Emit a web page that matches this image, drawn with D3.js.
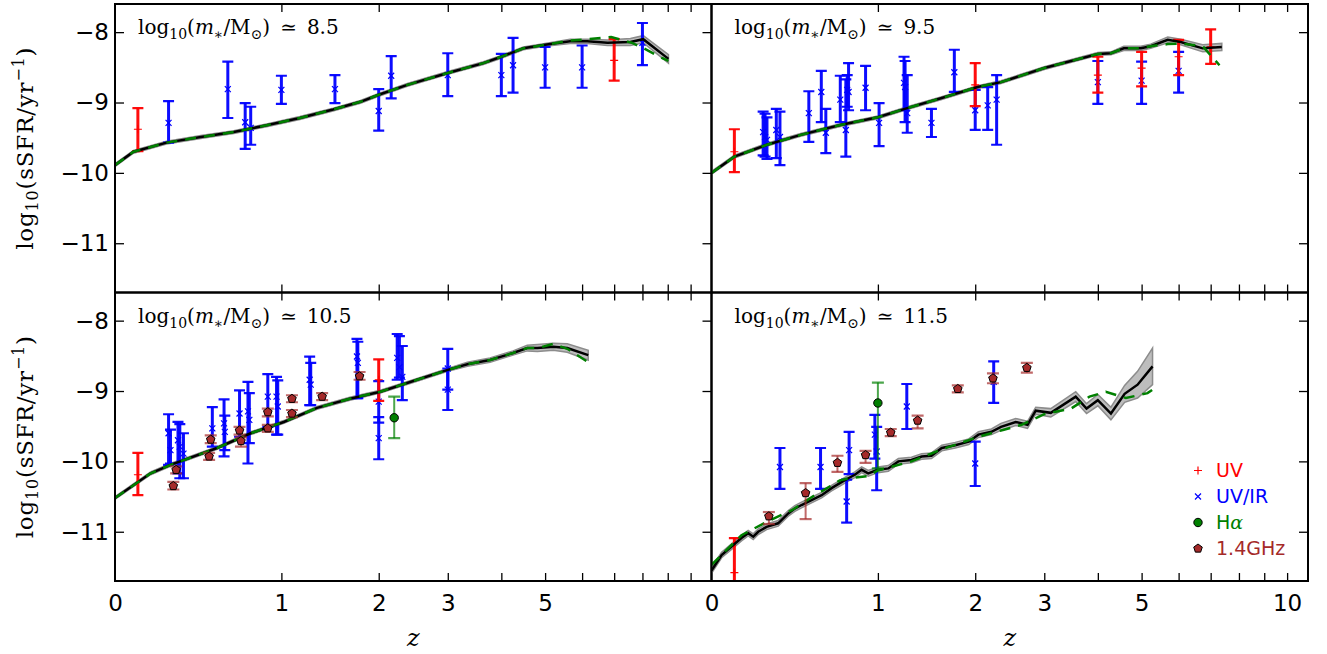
<!DOCTYPE html>
<html>
<head>
<meta charset="utf-8">
<script src="https://d3js.org/d3.v7.min.js"></script>
<style>
body { margin: 0; background: #fff; }
svg { display: block; }
.tick text { font-family: "DejaVu Sans", sans-serif; font-size: 23px; fill: #000; }
.tick line { stroke: #000; stroke-width: 1.3; }
.lab { font-family: "DejaVu Serif", serif; fill: #000; }
</style>
</head>
<body>
<div id="chart"></div>
<script>
// ---- data ----
var masses = ['8.5', '9.5', '10.5', '11.5'];
var zTicks = [1, 2, 3, 4, 5, 6, 7, 8, 9, 10];
var zLabels = [0, 1, 2, 3, 5, 10];
var yTicks = [-8, -9, -10, -11];

// model: [z, log sSFR, half width of band]
var model85 = [[0,-9.89,0.02],[0.08,-9.70,0.02],[0.24,-9.57,0.02],[0.43,-9.49,0.02],[0.64,-9.42,0.02],[0.89,-9.32,0.02],
  [1.16,-9.22,0.02],[1.48,-9.10,0.02],[1.78,-8.99,0.02],[2.0,-8.89,0.02],[2.38,-8.75,0.02],[3.0,-8.58,0.02],[3.64,-8.44,0.02],
  [4.0,-8.35,0.02],[4.48,-8.23,0.02],[5.0,-8.18,0.02],[5.66,-8.13,0.03],[6.15,-8.13,0.03],[6.78,-8.15,0.04],[7.56,-8.14,0.05],
  [8.03,-8.10,0.05],[9.03,-8.38,0.06]];
var fit85 = [[0,-9.89],[0.08,-9.70],[0.24,-9.57],[0.43,-9.49],[0.64,-9.42],[0.89,-9.32],[1.16,-9.22],[1.48,-9.10],[1.78,-8.99],
  [2.0,-8.89],[2.38,-8.75],[3.0,-8.58],[3.64,-8.44],[4.0,-8.35],[4.48,-8.23],[5.0,-8.18],[5.66,-8.12],[6.15,-8.10],[6.9,-8.07],
  [7.6,-8.15],[8.0,-8.22],[8.5,-8.32],[9.03,-8.41]];

var model95 = [[0,-10.0,0.02],[0.1,-9.77,0.02],[0.26,-9.60,0.02],[0.45,-9.46,0.02],[0.71,-9.32,0.02],[1.0,-9.21,0.02],
  [1.26,-9.08,0.02],[1.6,-8.94,0.02],[2.03,-8.78,0.02],[2.34,-8.71,0.02],[3.0,-8.51,0.02],[4.0,-8.31,0.02],[4.28,-8.30,0.02],
  [4.57,-8.23,0.03],[4.98,-8.23,0.03],[5.23,-8.20,0.03],[5.69,-8.11,0.04],[6.06,-8.14,0.04],[6.74,-8.23,0.05],[7.38,-8.21,0.05]];
var fit95 = [[0,-10.0],[0.1,-9.77],[0.26,-9.60],[0.45,-9.46],[0.71,-9.32],[1.0,-9.21],[1.26,-9.08],[1.6,-8.94],[2.03,-8.78],
  [2.34,-8.71],[3.0,-8.51],[4.0,-8.31],[4.28,-8.30],[4.57,-8.23],[4.98,-8.23],[5.23,-8.20],[5.69,-8.17],[6.06,-8.16],
  [6.74,-8.20],[7.0,-8.33],[7.3,-8.47]];

var model105 = [[0,-10.52,0.02],[0.16,-10.17,0.02],[0.26,-10.05,0.02],[0.53,-9.81,0.02],[0.76,-9.60,0.02],[1.02,-9.44,0.02],
  [1.32,-9.24,0.02],[1.66,-9.11,0.02],[2.02,-9.01,0.02],[2.52,-8.84,0.02],[3.0,-8.70,0.02],[3.34,-8.62,0.03],[3.77,-8.56,0.03],
  [4.25,-8.46,0.03],[4.57,-8.39,0.04],[4.81,-8.39,0.05],[5.21,-8.37,0.05],[5.58,-8.39,0.06],[6.18,-8.49,0.07]];
var fit105 = [[0,-10.52],[0.16,-10.17],[0.26,-10.05],[0.53,-9.81],[0.76,-9.60],[1.02,-9.44],[1.32,-9.24],[1.66,-9.11],
  [2.02,-9.01],[2.52,-8.84],[3.0,-8.70],[3.34,-8.62],[3.77,-8.56],[4.25,-8.46],[4.57,-8.39],[4.81,-8.39],[5.21,-8.33],
  [5.58,-8.40],[6.18,-8.59]];

var model115 = [[0,-11.55,0.04],[0.043,-11.33,0.04],[0.087,-11.21,0.04],[0.133,-11.09,0.04],[0.165,-11.02,0.04],[0.19,-11.07,0.04],
  [0.215,-11.0,0.04],[0.258,-10.93,0.04],[0.32,-10.88,0.04],[0.377,-10.74,0.04],[0.415,-10.67,0.04],[0.455,-10.62,0.04],
  [0.517,-10.55,0.04],[0.582,-10.48,0.04],[0.649,-10.38,0.04],[0.707,-10.31,0.04],[0.768,-10.24,0.04],[0.817,-10.19,0.04],
  [0.869,-10.12,0.04],[0.921,-10.17,0.04],[1.0,-10.12,0.04],[1.089,-10.10,0.04],[1.178,-10.0,0.04],[1.30,-9.98,0.04],
  [1.40,-9.93,0.04],[1.50,-9.92,0.04],[1.61,-9.81,0.04],[1.76,-9.77,0.04],[1.92,-9.72,0.04],[2.04,-9.62,0.04],[2.21,-9.58,0.04],
  [2.34,-9.51,0.05],[2.55,-9.44,0.05],[2.73,-9.48,0.05],[2.86,-9.28,0.05],[3.11,-9.31,0.06],[3.56,-9.08,0.07],[3.77,-9.25,0.07],
  [4.0,-9.13,0.08],[4.28,-9.32,0.09],[4.59,-9.04,0.12],[4.90,-8.91,0.19],[5.28,-8.65,0.26]];
var fit115 = [[0,-11.47],[0.133,-11.05],[0.258,-10.86],[0.4,-10.69],[0.517,-10.51],[0.707,-10.27],[0.77,-10.24],[0.92,-10.21],
  [1.0,-10.13],[1.3,-10.0],[1.61,-9.83],[2.04,-9.65],[2.38,-9.55],[2.64,-9.48],[3.0,-9.33],[3.47,-9.25],[3.83,-9.08],
  [4.17,-9.01],[4.62,-9.10],[5.15,-9.03],[5.28,-8.98]];

// observations: [z, log sSFR, lower end, upper end]
var uv85 = [[0.1,-9.38,-9.69,-9.08],[7.0,-8.40,-8.69,-8.10]];
var uvir85 = [[0.25,-9.29,-9.57,-8.98],[0.60,-8.81,-9.22,-8.42],[0.72,-9.28,-9.66,-9.01],[0.76,-9.36,-9.60,-9.06],
  [1.0,-8.82,-9.02,-8.62],[1.5,-8.81,-9.01,-8.61],[2.0,-9.12,-9.40,-8.81],[2.16,-8.62,-8.94,-8.34],[3.0,-8.61,-8.91,-8.30],
  [4.0,-8.61,-8.91,-8.31],[4.25,-8.47,-8.86,-8.08],[5.0,-8.50,-8.79,-8.21],[6.0,-8.50,-8.79,-8.19],[8.0,-8.15,-8.47,-7.87]];

var uv95 = [[0.1,-9.70,-9.99,-9.38],[2.0,-8.75,-9.05,-8.44],[4.0,-8.61,-8.86,-8.35],[5.0,-8.51,-8.77,-8.28],
  [6.0,-8.35,-8.61,-8.11],[7.0,-8.21,-8.45,-7.96]];
var uvir95 = [[0.24,-9.42,-9.75,-9.13],[0.25,-9.49,-9.77,-9.16],[0.26,-9.53,-9.80,-9.21],[0.31,-9.39,-9.79,-9.09],
  [0.33,-9.49,-9.89,-9.13],[0.50,-9.15,-9.56,-8.84],[0.58,-8.85,-9.28,-8.55],[0.61,-9.43,-9.72,-9.09],[0.71,-8.96,-9.28,-8.62],
  [0.75,-9.39,-9.77,-8.67],[0.77,-8.85,-9.11,-8.44],[0.76,-8.82,-9.06,-8.61],[0.90,-8.79,-9.11,-8.48],[1.01,-9.29,-9.62,-9.01],
  [1.23,-8.72,-9.11,-8.35],[1.24,-8.78,-9.28,-8.41],[1.26,-9.15,-9.43,-8.61],[1.50,-9.29,-9.49,-9.09],[1.75,-8.57,-8.85,-8.25],
  [2.0,-9.11,-9.39,-8.82],[2.16,-9.04,-9.39,-8.78],[2.28,-8.96,-9.60,-8.61],[4.0,-8.71,-9.02,-8.41],[5.0,-8.69,-9.02,-8.42],
  [6.0,-8.55,-8.86,-8.28]];

var uv105 = [[0.1,-10.19,-10.48,-9.88],[2.0,-8.84,-9.14,-8.55]];
var uvir105 = [[0.25,-9.60,-10.05,-9.33],[0.26,-9.84,-10.03,-9.55],[0.30,-9.70,-10.17,-9.44],[0.31,-9.79,-10.24,-9.47],
  [0.33,-9.89,-10.24,-9.60],[0.50,-9.53,-9.79,-9.23],[0.575,-9.46,-9.93,-9.12],[0.58,-9.58,-9.84,-9.35],[0.68,-9.32,-9.65,-8.99],
  [0.74,-9.29,-10.03,-8.87],[0.75,-9.41,-9.74,-9.03],[0.89,-9.08,-9.51,-8.76],[0.96,-9.08,-9.62,-8.80],[0.97,-9.22,-9.62,-8.85],
  [1.25,-8.84,-9.20,-8.51],[1.26,-8.91,-9.20,-8.60],[1.74,-8.51,-9.10,-8.26],[1.75,-8.60,-9.10,-8.30],[2.0,-9.15,-9.45,-8.86],
  [2.0,-9.67,-9.97,-9.37],[2.24,-8.53,-8.84,-8.19],[2.27,-8.66,-8.81,-8.22],[2.31,-8.80,-9.13,-8.36],[3.0,-8.68,-8.98,-8.40],
  [3.0,-8.98,-9.27,-8.68]];
var ha105 = [[2.2,-9.38,-9.67,-9.08]];
var radio105 = [[0.275,-10.35,-10.40,-10.29],[0.29,-10.12,-10.17,-10.07],[0.48,-9.93,-9.98,-9.88],[0.49,-9.69,-9.74,-9.63],
  [0.68,-9.56,-9.62,-9.51],[0.69,-9.71,-9.79,-9.66],[0.89,-9.30,-9.36,-9.25],[0.89,-9.53,-9.58,-9.48],[1.09,-9.11,-9.16,-9.06],
  [1.09,-9.32,-9.37,-9.27],[1.37,-9.08,-9.13,-9.03],[1.77,-8.79,-8.84,-8.73]];

var uv115 = [[0.1,-11.58,-12.08,-11.09]];
var uvir115 = [[0.33,-10.08,-10.39,-9.81],[0.575,-10.08,-10.39,-9.81],[0.756,-10.57,-10.87,-10.26],[0.774,-9.84,-10.18,-9.58],
  [0.975,-9.62,-9.96,-9.34],[0.99,-9.86,-10.41,-9.51],[1.256,-9.22,-9.54,-8.90],[2.0,-10.03,-10.35,-9.72],[2.24,-8.87,-9.17,-8.58]];
var ha115 = [[1.0,-9.17,-10.10,-8.88]];
var radio115 = [[0.27,-10.78,-10.89,-10.72],[0.48,-10.45,-10.82,-10.31],[0.69,-10.02,-10.15,-9.92],[0.90,-9.91,-10.02,-9.85],
  [1.11,-9.59,-9.64,-9.54],[1.36,-9.42,-9.53,-9.35],[1.79,-8.97,-9.02,-8.92],[2.23,-8.82,-8.89,-8.75],[2.72,-8.67,-8.74,-8.60]];

var legendNames = ['UV', 'UV/IR', 'H', '1.4GHz'];

// ---- layout ----
var width = 1327, height = 654;
var margin = {top: 4, right: 19, bottom: 73, left: 115};
var pw = (width - margin.left - margin.right) / 2,
    ph = (height - margin.top - margin.bottom) / 2;

var colUV = '#ff0000', colIR = '#0000ff', colHa = '#008000', colRad = '#a52a2a';

var panels = [
  {col: 0, row: 0, model: model85, fit: fit85, uv: uv85, uvir: uvir85, ha: [], radio: []},
  {col: 1, row: 0, model: model95, fit: fit95, uv: uv95, uvir: uvir95, ha: [], radio: []},
  {col: 0, row: 1, model: model105, fit: fit105, uv: uv105, uvir: uvir105, ha: ha105, radio: radio105},
  {col: 1, row: 1, model: model115, fit: fit115, uv: uv115, uvir: uvir115, ha: ha115, radio: radio115}
];

var svg = d3.select('#chart').append('svg')
  .attr('width', width)
  .attr('height', height);

function pentagon(r) {
  var pts = [];
  for (var i = 0; i < 5; i++) {
    var a = -Math.PI / 2 + i * 2 * Math.PI / 5;
    pts.push([r * Math.cos(a), r * Math.sin(a)]);
  }
  return 'M' + pts.join('L') + 'Z';
}

function errbars(g, data, x, y, color, lw, cap, op) {
  var eb = g.append('g')
    .attr('stroke', color)
    .attr('stroke-opacity', op)
    .attr('fill', 'none');
  eb.selectAll('.bar').data(data).enter().append('line')
    .attr('x1', function(d) { return x(1 + d[0]); })
    .attr('x2', function(d) { return x(1 + d[0]); })
    .attr('y1', function(d) { return y(d[2]); })
    .attr('y2', function(d) { return y(d[3]); })
    .attr('stroke-width', lw);
  [2, 3].forEach(function(k) {
    eb.selectAll('.cap' + k).data(data).enter().append('line')
      .attr('x1', function(d) { return x(1 + d[0]) - cap; })
      .attr('x2', function(d) { return x(1 + d[0]) + cap; })
      .attr('y1', function(d) { return y(d[k]); })
      .attr('y2', function(d) { return y(d[k]); })
      .attr('stroke-width', 2.2);
  });
}

function crosses(g, data, x, y, color, kind) {
  var s = 3;
  var p = g.append('g').attr('stroke', color).attr('stroke-width', 1.2);
  p.selectAll('path').data(data).enter().append('path')
    .attr('transform', function(d) { return 'translate(' + x(1 + d[0]) + ',' + y(d[1]) + ')'; })
    .attr('d', kind == 'x'
      ? 'M' + (-s) + ',' + (-s) + 'L' + s + ',' + s + 'M' + (-s) + ',' + s + 'L' + s + ',' + (-s)
      : 'M' + (-s - 1) + ',0L' + (s + 1) + ',0M0,' + (-s - 1) + 'L0,' + (s + 1));
}

function massLabel(sel, m) {
  var t = sel.append('text').attr('class', 'lab').attr('font-size', 20);
  t.append('tspan').text('log');
  t.append('tspan').attr('font-size', 14).attr('dy', 5).text('10');
  t.append('tspan').attr('dy', -5).text('(');
  t.append('tspan').attr('font-style', 'italic').text('m');
  t.append('tspan').attr('font-size', 14).attr('dy', 5).text('\u2217');
  t.append('tspan').attr('dy', -5).text('/M');
  t.append('tspan').attr('font-size', 14).attr('dy', 5).text('\u2299');
  t.append('tspan').attr('dy', -5).text(')\u2002\u2243\u2002' + m);
  return t;
}

panels.forEach(function(p, i) {
  var g = svg.append('g')
    .attr('transform', 'translate(' + (margin.left + p.col * pw) + ',' + (margin.top + p.row * ph) + ')');

  var x = d3.scaleLog().domain([1, 12]).range([0, pw]);
  var y = d3.scaleLinear().domain([-11.7, -7.6]).range([ph, 0]);

  g.append('clipPath').attr('id', 'clip' + i)
    .append('rect').attr('width', pw).attr('height', ph);
  var plot = g.append('g').attr('clip-path', 'url(#clip' + i + ')');

  // model band
  var band = d3.area()
    .x(function(d) { return x(1 + d[0]); })
    .y0(function(d) { return y(d[1] - d[2]); })
    .y1(function(d) { return y(d[1] + d[2]); });
  plot.append('path').datum(p.model)
    .attr('d', band)
    .attr('fill', '#bdbdbd')
    .attr('stroke', '#8c8c8c')
    .attr('stroke-width', 1.5);

  errbars(plot, p.uvir, x, y, colIR, 3, 5.5, 0.95);
  crosses(plot, p.uvir, x, y, colIR, 'x');
  errbars(plot, p.uv, x, y, colUV, 3, 5.5, 0.95);
  crosses(plot, p.uv, x, y, colUV, '+');

  var line = d3.line()
    .x(function(d) { return x(1 + d[0]); })
    .y(function(d) { return y(d[1]); });
  plot.append('path').datum(p.model)
    .attr('d', line)
    .attr('fill', 'none')
    .attr('stroke', '#000')
    .attr('stroke-width', 2.5);
  plot.append('path').datum(p.fit)
    .attr('d', line)
    .attr('fill', 'none')
    .attr('stroke', colHa)
    .attr('stroke-width', 2.5)
    .attr('stroke-dasharray', '11,8');

  errbars(plot, p.ha, x, y, colHa, 2, 6, 0.7);
  plot.append('g').selectAll('circle').data(p.ha).enter().append('circle')
    .attr('cx', function(d) { return x(1 + d[0]); })
    .attr('cy', function(d) { return y(d[1]); })
    .attr('r', 4.2)
    .attr('fill', colHa)
    .attr('stroke', '#000');

  errbars(plot, p.radio, x, y, colRad, 2, 6, 0.7);
  plot.append('g').selectAll('path').data(p.radio).enter().append('path')
    .attr('transform', function(d) { return 'translate(' + x(1 + d[0]) + ',' + y(d[1]) + ')'; })
    .attr('d', pentagon(4.5))
    .attr('fill', colRad)
    .attr('stroke', '#000');

  // ticks, inward
  var xt = zTicks.map(function(z) { return 1 + z; });
  g.append('g').attr('transform', 'translate(0,' + ph + ')')
    .call(d3.axisBottom(x).tickValues(xt).tickSize(-8).tickFormat(''))
    .select('.domain').remove();
  g.append('g')
    .call(d3.axisTop(x).tickValues(xt).tickSize(-8).tickFormat(''))
    .select('.domain').remove();
  g.append('g').attr('transform', 'translate(' + pw + ',0)')
    .call(d3.axisRight(y).tickValues(yTicks).tickSize(-9).tickFormat(''))
    .select('.domain').remove();

  if (p.col == 0) {
    g.append('g')
      .call(d3.axisLeft(y).tickValues(yTicks).tickSize(-9).tickFormat(d3.format('d')))
      .call(function(a) { a.select('.domain').remove(); })
      .selectAll('.tick text').attr('x', -6);

    var yl = g.append('text').attr('class', 'lab')
      .attr('font-size', 23)
      .attr('letter-spacing', 0.8)
      .attr('text-anchor', 'middle')
      .attr('transform', 'translate(' + (33 - margin.left) + ',' + (ph / 2) + ') rotate(-90)');
    yl.append('tspan').text('log');
    yl.append('tspan').attr('font-size', 16).attr('dy', 5).text('10');
    yl.append('tspan').attr('dy', -5).text('(sSFR/yr');
    yl.append('tspan').attr('font-size', 16).attr('dy', -9).text('\u22121');
    yl.append('tspan').attr('dy', 9).text(')');
  }

  if (p.row == 1) {
    var labs = zLabels.filter(function(z) { return p.col == 1 || z < 10; });
    g.append('g').attr('transform', 'translate(0,' + ph + ')')
      .call(d3.axisBottom(x).tickValues(labs.map(function(z) { return 1 + z; }))
        .tickSize(0).tickPadding(14)
        .tickFormat(function(v) { return String(Math.round(v - 1)); }))
      .select('.domain').remove();
    g.append('text').attr('class', 'lab')
      .attr('x', pw / 2)
      .attr('y', ph + 65)
      .attr('text-anchor', 'middle')
      .attr('font-size', 24)
      .attr('font-style', 'italic')
      .text('z');
  }

  massLabel(g, masses[i]).attr('x', 23).attr('y', 30);

  g.append('rect')
    .attr('width', pw)
    .attr('height', ph)
    .attr('fill', 'none')
    .attr('stroke', '#000')
    .attr('stroke-width', 2);

  // legend in the last panel
  if (i == 3) {
    var cols = [colUV, colIR, colHa, colRad];
    var lg = g.selectAll('.legend').data(legendNames).enter().append('g')
      .attr('class', 'legend')
      .attr('transform', function(d, k) { return 'translate(' + (pw - 110) + ',' + (178 + 26 * k) + ')'; });
    lg.each(function(d, k) {
      var s = d3.select(this);
      if (k == 0) {
        s.append('path').attr('d', 'M-4,0L4,0M0,-4L0,4').attr('stroke', colUV).attr('stroke-width', 1.2);
      } else if (k == 1) {
        s.append('path').attr('d', 'M-3,-3L3,3M-3,3L3,-3').attr('stroke', colIR).attr('stroke-width', 1.2);
      } else if (k == 2) {
        s.append('circle').attr('r', 4.2).attr('fill', colHa).attr('stroke', '#000');
      } else {
        s.append('path').attr('d', pentagon(4.5)).attr('fill', colRad).attr('stroke', '#000');
      }
      var t = s.append('text')
        .attr('x', 18)
        .attr('dy', '0.36em')
        .attr('font-family', '"DejaVu Sans", sans-serif')
        .attr('font-size', 19)
        .attr('fill', cols[k])
        .text(d);
      if (k == 2) {
        t.append('tspan').attr('font-family', '"DejaVu Serif", serif').attr('font-style', 'italic').text('\u03b1');
      }
    });
  }
});
</script>
</body>
</html>
